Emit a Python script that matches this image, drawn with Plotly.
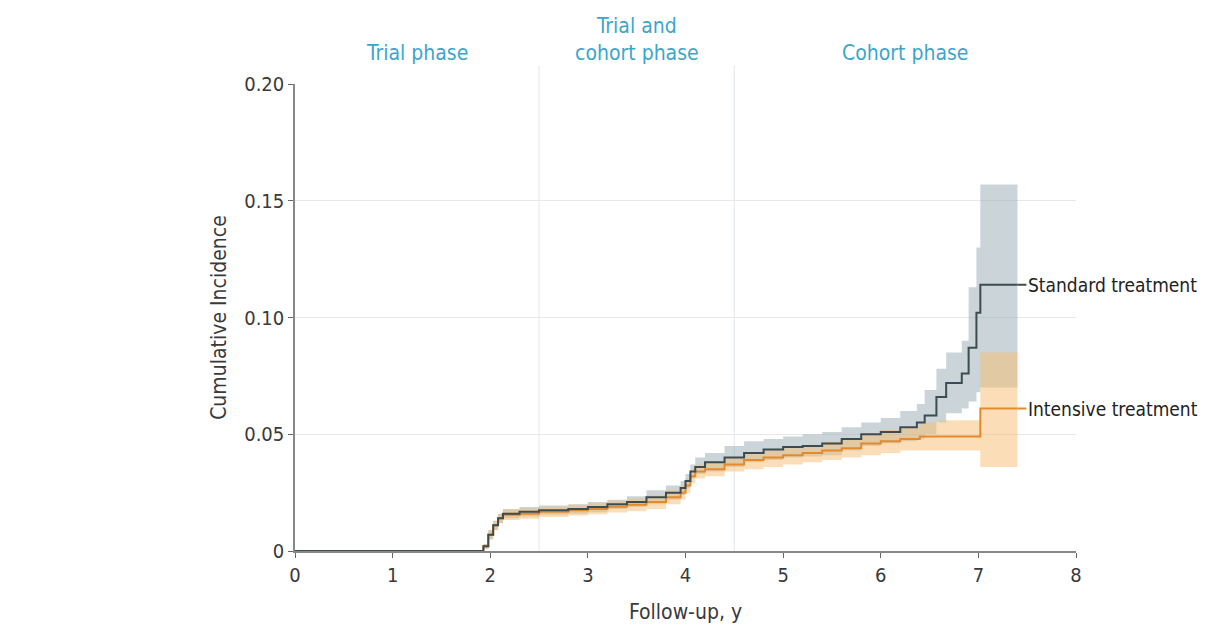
import plotly.graph_objects as go

# ---- data ----
t_std = [0, 1.93, 1.98, 2.03, 2.08, 2.13, 2.3, 2.5, 2.8, 3.0, 3.2, 3.4, 3.6, 3.8, 3.95, 4.0, 4.05, 4.1, 4.2,
         4.4, 4.6, 4.8, 5.0, 5.2, 5.4, 5.6, 5.8, 6.0, 6.2, 6.37, 6.45, 6.57, 6.67, 6.83, 6.9, 6.98, 7.02, 7.40]
y_std = [0, 0.002, 0.007, 0.011, 0.014, 0.016, 0.0168, 0.0175, 0.018, 0.0188, 0.020, 0.021, 0.023, 0.025,
         0.027, 0.030, 0.034, 0.036, 0.038, 0.040, 0.042, 0.0435, 0.0445, 0.045, 0.046, 0.048, 0.050, 0.051,
         0.053, 0.055, 0.058, 0.066, 0.072, 0.076, 0.087, 0.102, 0.114, 0.114]
hi_std = [0, 0.003, 0.009, 0.013, 0.016, 0.018, 0.0188, 0.0195, 0.020, 0.021, 0.022, 0.0235, 0.026, 0.028,
          0.030, 0.033, 0.037, 0.040, 0.042, 0.045, 0.047, 0.048, 0.049, 0.050, 0.051, 0.053, 0.055, 0.057,
          0.060, 0.063, 0.069, 0.078, 0.085, 0.090, 0.113, 0.130, 0.157, 0.157]
lo_std = [0, 0.001, 0.005, 0.009, 0.012, 0.014, 0.0148, 0.0155, 0.016, 0.0166, 0.018, 0.0188, 0.020, 0.022,
          0.024, 0.027, 0.031, 0.033, 0.034, 0.036, 0.038, 0.039, 0.040, 0.0405, 0.041, 0.043, 0.045, 0.046,
          0.047, 0.048, 0.050, 0.055, 0.059, 0.061, 0.064, 0.068, 0.070, 0.070]

t_int = [0, 1.93, 1.98, 2.03, 2.08, 2.13, 2.3, 2.5, 2.8, 3.0, 3.2, 3.4, 3.6, 3.8, 3.95, 4.0, 4.05, 4.1, 4.2,
         4.4, 4.6, 4.8, 5.0, 5.2, 5.4, 5.6, 5.8, 6.0, 6.2, 6.4, 6.6, 7.02, 7.40]
y_int = [0, 0.002, 0.007, 0.011, 0.014, 0.0155, 0.016, 0.0168, 0.0175, 0.018, 0.019, 0.0198, 0.021, 0.023,
         0.025, 0.028, 0.032, 0.034, 0.035, 0.037, 0.039, 0.040, 0.041, 0.042, 0.043, 0.044, 0.046, 0.047,
         0.048, 0.049, 0.049, 0.061, 0.061]
hi_int = [0, 0.003, 0.009, 0.013, 0.016, 0.0178, 0.0183, 0.019, 0.0198, 0.0205, 0.0215, 0.0225, 0.024, 0.026,
          0.028, 0.031, 0.035, 0.037, 0.038, 0.040, 0.042, 0.043, 0.044, 0.045, 0.047, 0.048, 0.050, 0.052,
          0.053, 0.055, 0.056, 0.085, 0.085]
lo_int = [0, 0.001, 0.005, 0.009, 0.012, 0.0133, 0.0138, 0.0146, 0.0152, 0.0157, 0.0165, 0.017, 0.018, 0.020,
          0.022, 0.025, 0.029, 0.031, 0.032, 0.034, 0.035, 0.036, 0.037, 0.038, 0.039, 0.040, 0.041, 0.042,
          0.043, 0.043, 0.043, 0.036, 0.036]

x_ticks = [0, 1, 2, 3, 4, 5, 6, 7, 8]
y_ticks = [0, 0.05, 0.10, 0.15, 0.20]
y_tick_text = ["0", "0.05", "0.10", "0.15", "0.20"]

phase_bounds = [2.5, 4.5]
phase_x = [1.25, 3.5, 6.25]
phase_labels = ["Trial phase", "Trial and<br>cohort phase", "Cohort phase"]

series_names = ["Standard treatment", "Intensive treatment"]

# ---- styles ----
STD_LINE = "#3b4c52"
STD_BAND = "rgba(150,170,180,0.50)"
INT_LINE = "#e38a2c"
INT_BAND = "rgba(247,190,112,0.50)"
PHASE_COL = "#3ba6cc"
FONT = "DejaVu Sans Condensed, Liberation Sans Narrow, Roboto, sans-serif"

fig = go.Figure()

def band(t, lo, hi, color):
    fig.add_trace(go.Scatter(x=t, y=lo, mode="lines", line=dict(width=0, shape="hv"),
                             showlegend=False, hoverinfo="skip"))
    fig.add_trace(go.Scatter(x=t, y=hi, mode="lines", line=dict(width=0, shape="hv"),
                             fill="tonexty", fillcolor=color, showlegend=False, hoverinfo="skip"))

band(t_std, lo_std, hi_std, STD_BAND)
band(t_int, lo_int, hi_int, INT_BAND)

fig.add_trace(go.Scatter(x=t_int, y=y_int, mode="lines", name=series_names[1],
                         line=dict(color=INT_LINE, width=2, shape="hv"), showlegend=False))
fig.add_trace(go.Scatter(x=t_std, y=y_std, mode="lines", name=series_names[0],
                         line=dict(color=STD_LINE, width=2, shape="hv"), showlegend=False))

# phase boundaries
for xb in phase_bounds:
    fig.add_shape(type="line", x0=xb, x1=xb, xref="x", y0=0, y1=1.04, yref="paper",
                  line=dict(color="#dfe7ec", width=1), layer="below")

for xp, lab in zip(phase_x, phase_labels):
    fig.add_annotation(x=xp, y=1.036, xref="x", yref="paper", text=lab, showarrow=False,
                       yanchor="bottom", font=dict(family=FONT, size=21, color=PHASE_COL))

# end labels
fig.add_annotation(x=t_std[-1], y=y_std[-1], text=series_names[0], showarrow=True, arrowhead=0,
                   arrowwidth=2, arrowcolor=STD_LINE, ax=9, ay=0, xanchor="left",
                   font=dict(family=FONT, size=19, color="#222"))
fig.add_annotation(x=t_int[-1], y=y_int[-1], text=series_names[1], showarrow=True, arrowhead=0,
                   arrowwidth=2, arrowcolor=INT_LINE, ax=9, ay=0, xanchor="left",
                   font=dict(family=FONT, size=19, color="#222"))

fig.update_layout(
    width=1218, height=627,
    margin=dict(l=295, r=142, t=84, b=76),
    paper_bgcolor="white", plot_bgcolor="white",
    font=dict(family=FONT, size=20, color="#3a3a3a"),
    showlegend=False,
)
fig.update_xaxes(range=[0, 8], tickvals=x_ticks, ticks="outside", ticklen=5, tickcolor="#666",
                 showline=True, linecolor="#888", linewidth=1.5, showgrid=False, zeroline=False,
                 automargin=False,
                 title=dict(text="Follow-up, y", standoff=19, font=dict(size=21)),
                 tickfont=dict(size=20))
fig.update_yaxes(range=[0, 0.20], tickvals=y_ticks, ticktext=y_tick_text, ticks="outside", ticklen=5,
                 tickcolor="#666", showline=True, linecolor="#888", linewidth=1.5,
                 showgrid=True, gridcolor="#e8e8e8", zeroline=False, automargin=False,
                 title=dict(text="Cumulative Incidence", standoff=12, font=dict(size=21)),
                 tickfont=dict(size=20))

fig.write_html("out.html")
